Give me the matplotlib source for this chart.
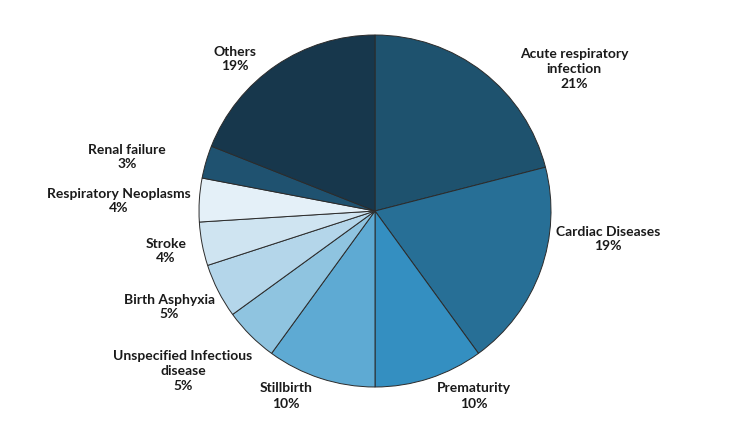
import matplotlib.pyplot as plt

labels = ["Acute respiratory\ninfection", "Cardiac Diseases", "Prematurity", "Stillbirth",
          "Unspecified Infectious\ndisease", "Birth Asphyxia", "Stroke",
          "Respiratory Neoplasms", "Renal failure", "Others"]
shares = [21, 19, 10, 10, 5, 5, 4, 4, 3, 19]
colors = ["#1e526e", "#276f96", "#348fc1", "#5eaad3", "#8fc4e0", "#b4d6ea",
          "#cfe4f1", "#e4f0f8", "#1f5270", "#17374c"]

# label centres in pixels (x, y from top), the pie sits at (375, 211) with r = 176
label_px = [(574, 69), (608, 239), (474, 396), (286, 396), (183, 371),
            (169, 307), (166, 251), (119, 201), (127, 157), (235, 59)]

W, H = 750, 422
CX, CY, R = 375, 211, 176

plt.rcParams['font.family'] = ['Lato', 'DejaVu Sans']
fig = plt.figure(figsize=(W / 100, H / 100), dpi=100)
ax = fig.add_axes([0, 0, 1, 1])
ax.pie(shares, colors=colors, startangle=90, counterclock=False,
       wedgeprops=dict(edgecolor="#2b2b2b", linewidth=0.7))
ax.set_xlim(-CX / R, (W - CX) / R)
ax.set_ylim(-(H - CY) / R, CY / R)
ax.set_aspect('equal', adjustable='datalim')

for lab, val, (px, py) in zip(labels, shares, label_px):
    ax.text((px - CX) / R, (CY - py) / R, "{}\n{}%".format(lab, val),
            ha='center', va='center', fontsize=10, fontweight='bold',
            linespacing=1.3, color="#1a1a1a")

fig.savefig("out.png", dpi=100)
